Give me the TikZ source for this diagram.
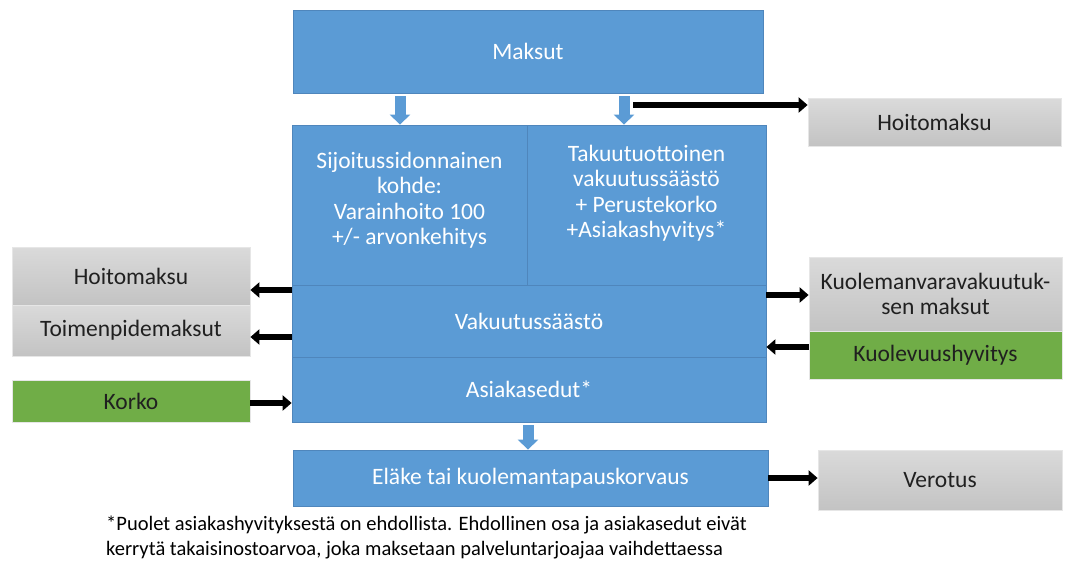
\documentclass[tikz,border=0pt]{standalone}
\usepackage{fontspec}
\setmainfont{Carlito}
\usetikzlibrary{arrows.meta}
\definecolor{bluebox}{HTML}{5B9BD5}
\definecolor{blueline}{HTML}{4F86BC}
\definecolor{greenbox}{HTML}{70AD47}
\definecolor{graytop}{HTML}{DADADA}
\definecolor{graybot}{HTML}{C3C3C3}
\definecolor{grayline}{HTML}{E6E6E6}
\definecolor{darktext}{HTML}{202020}
\begin{document}
\begin{tikzpicture}[x=1pt,y=-1pt,
  base/.style={rectangle, inner sep=0pt, align=center,
    font=\fontsize{23.5}{25.5}\selectfont},
  bluebx/.style={base, fill=bluebox, draw=blueline, line width=0.8pt, text=white},
  graybx/.style={base, top color=graytop, bottom color=graybot, draw=grayline,
    line width=0.8pt, text=darktext},
  greenbx/.style={base, fill=greenbox, draw=grayline, line width=0.8pt, text=darktext},
  txt/.style={inner sep=0pt, align=center, text=white,
    font=\fontsize{23.5}{25.5}\selectfont},
  flow/.style={draw=bluebox, line width=11pt, -{Triangle[length=10pt,width=20pt]}},
  push/.style={draw=black, line width=6pt, -{Triangle[length=9pt,width=15pt]}},
  note/.style={inner sep=0pt, align=left, text=black,
    font=\fontsize{20.5}{24.5}\selectfont}
]
\useasboundingbox (0,0) rectangle (1066,566);

% central column
\node[bluebx, minimum width=470pt, minimum height=83pt] (maksut) at (528,51.5) {Maksut};
\node[bluebx, minimum width=235pt, minimum height=160pt] (sij) at (409.5,205) {};
\node[bluebx, minimum width=239pt, minimum height=160pt] (tak) at (646.5,205) {};
\node[txt] (sijt) at (409.5,200) {Sijoitussidonnainen\\kohde:\\Varainhoito 100\\+/- arvonkehitys};
\node[txt] (takt) at (646.5,193) {Takuutuottoinen\\vakuutussäästö\\+ Perustekorko\\+Asiakashyvitys*};
\node[bluebx, minimum width=474pt, minimum height=72pt] (vak) at (529,321) {Vakuutussäästö};
\node[bluebx, minimum width=474pt, minimum height=65pt] (asi) at (529,389.5) {Asiakasedut*};
\node[bluebx, minimum width=475pt, minimum height=56pt] (elake) at (530.5,478) {Eläke tai kuolemantapauskorvaus};

% side boxes
\node[graybx, minimum width=253pt, minimum height=48pt] (hoitoR) at (934.5,122) {Hoitomaksu};
\node[graybx, minimum width=238pt, minimum height=58pt] (hoitoL) at (131,276) {Hoitomaksu};
\node[graybx, minimum width=238pt, minimum height=51pt] (toim) at (131,330.5) {Toimenpidemaksut};
\node[greenbx, minimum width=238pt, minimum height=42pt] (korko) at (131,401) {Korko};
\node[graybx, minimum width=253pt, minimum height=74pt] (kuol) at (935.5,294) {Kuolemanvaravakuutuk-\\sen maksut};
\node[greenbx, minimum width=253pt, minimum height=48pt] (kuolev) at (935.5,355) {Kuolevuushyvitys};
\node[graybx, minimum width=244pt, minimum height=60pt] (verotus) at (940,480) {Verotus};

% blue flow arrows
\coordinate (f1) at (400,96);
\coordinate (f2) at (624,96);
\coordinate (f3) at (528,425);
\draw[flow] (f1) -- (f1 |- sij.north);
\draw[flow] (f2) -- (f2 |- tak.north);
\draw[flow] (f3) -- (f3 |- elake.north);

% black transfer arrows
\coordinate (p1) at (633,105);
\draw[push] (p1) -- (p1 -| hoitoR.west);
\coordinate (p2) at (292,290);
\draw[push] (p2) -- (p2 -| hoitoL.east);
\coordinate (p3) at (292,337);
\draw[push] (p3) -- (p3 -| toim.east);
\coordinate (p4) at (250,403);
\draw[push] (p4) -- (p4 -| asi.west);
\coordinate (p5) at (766,295);
\draw[push] (p5) -- (p5 -| kuol.west);
\coordinate (p6) at (809,347);
\draw[push] (p6) -- (p6 -| vak.east);
\draw[push] (elake.east) -- (elake.east -| verotus.west);

% footnote
\node[note, anchor=north west] (fn) at (106,516) {*Puolet asiakashyvityksestä on ehdollista. Ehdollinen osa ja asiakasedut eivät\\kerrytä takaisinostoarvoa, joka maksetaan palveluntarjoajaa vaihdettaessa};
\end{tikzpicture}
\end{document}
